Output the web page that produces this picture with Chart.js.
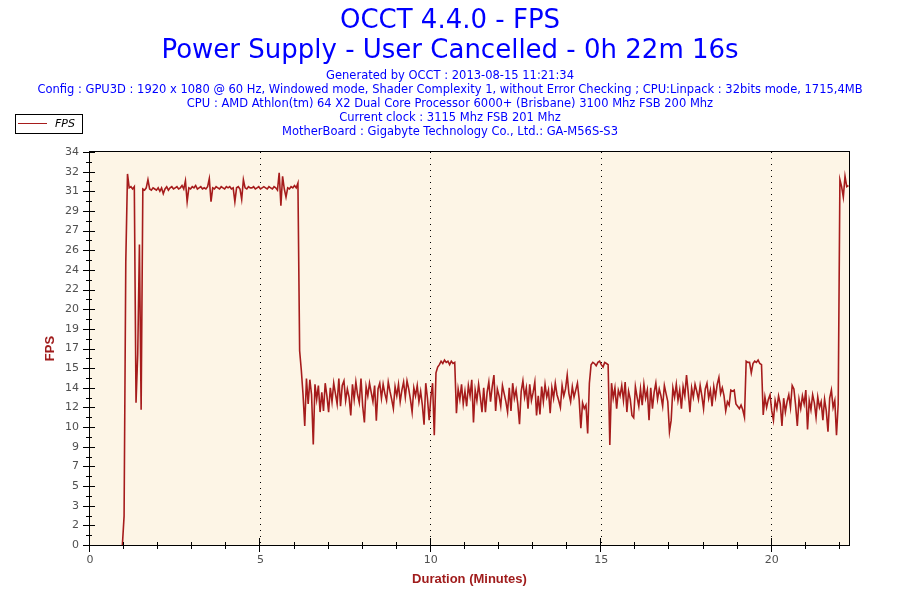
<!DOCTYPE html>
<html>
<head>
<meta charset="utf-8">
<title>OCCT 4.4.0 - FPS</title>
<script src="https://cdn.jsdelivr.net/npm/chart.js@4.4.0/dist/chart.umd.min.js"></script>
<style>
  html, body { margin: 0; padding: 0; background: #fff; }
</style>
</head>
<body>
<canvas id="fpsChart" width="900" height="600"></canvas>
<script>
// Header texts
var titleLines = [
    'OCCT 4.4.0 - FPS',
    'Power Supply - User Cancelled - 0h 22m 16s'
];
var infoLines = [
    'Generated by OCCT : 2013-08-15 11:21:34',
    'Config : GPU3D : 1920 x 1080 @ 60 Hz, Windowed mode, Shader Complexity 1, without Error Checking ; CPU:Linpack : 32bits mode, 1715,4MB',
    'CPU : AMD Athlon(tm) 64 X2 Dual Core Processor 6000+ (Brisbane) 3100 Mhz FSB 200 Mhz',
    'Current clock : 3115 Mhz FSB 201 Mhz',
    'MotherBoard : Gigabyte Technology Co., Ltd.: GA-M56S-S3'
];

// Test duration 0h 22m 16s, one sample every 3 s starting at 57 s
var sessionMinutes = 22 + 16 / 60;
var sampleStartSec = 57;
var sampleStepSec = 3;

// Y tick labels as OCCT prints them (34 / 20 steps, rounded)
var yTickLabels = ['0', '2', '3', '5', '7', '9', '10', '12', '14', '15', '17',
                   '19', '20', '22', '24', '26', '27', '29', '31', '32', '34'];

// FPS samples
var fpsStartup = [0, 2.5, 24.5, 32.1, 30.9, 31.0, 30.8, 31.0, 12.3, 16.5, 26.0, 11.7];

var fpsFullSpeed = [
    30.8, 30.7, 30.9, 31.6, 30.8, 30.7, 30.9, 30.8, 30.7, 30.9,
    30.6, 30.9, 30.4, 30.8, 31.0, 30.7, 30.9, 31.0, 30.8, 30.9,
    31.0, 30.8, 30.9, 31.1, 30.8, 31.5, 29.7, 30.9, 30.8, 31.0,
    30.9, 31.1, 30.8, 30.9, 31.0, 30.8, 30.9, 30.8, 31.0, 31.7,
    29.7, 30.9, 30.8, 31.0, 30.9, 30.8, 31.0, 30.9, 30.8, 31.0,
    30.9, 31.0, 30.8, 30.9, 29.7, 30.9, 31.0, 30.8, 29.9, 31.6,
    30.9, 30.8, 31.0, 30.9, 30.9, 31.0, 30.8, 30.9, 31.0, 30.8,
    30.9, 31.0, 30.9, 30.8, 31.0, 30.9, 30.8, 31.0, 30.9, 30.7,
    32.2, 29.35, 31.9, 30.8, 30.1, 30.9, 30.8, 31.0, 30.9, 31.1,
    30.9, 31.3
];

var fpsThrottled1 = [
    16.8, 15.1, 13.0, 10.3, 14.4, 12.2, 14.3, 13.0,
    8.7, 13.9, 12.6, 13.8, 11.5, 13.2, 11.6, 14.0, 12.9, 11.5,
    13.6, 12.4, 14.0, 13.1, 12.2, 14.4, 12.0, 13.8, 14.2, 12.5,
    13.5, 12.8, 11.2, 13.9, 12.6, 14.1, 13.0, 12.3, 14.4, 12.0,
    10.6, 13.7, 12.9, 14.0, 13.2, 12.4, 13.8, 10.75, 13.5, 14.0,
    12.7, 13.9, 13.1, 12.5, 14.1, 13.3, 12.6, 11.8, 13.7, 12.9,
    13.9, 12.4, 13.4, 14.1, 12.8, 14.2, 13.5, 12.6, 11.5, 13.6,
    12.9, 13.8, 12.4, 13.3, 12.1, 10.4, 14.0, 12.7, 10.8, 12.8
];

var fpsBurst1 = [14.0, 9.5, 14.9, 15.4,
    15.6, 15.9, 15.7, 16.0, 15.8, 15.9, 15.6, 15.9, 15.7, 15.8];

var fpsThrottled2 = [
    11.4, 13.5, 12.6, 13.9, 12.2, 13.3, 12.0, 13.8, 12.9, 14.3,
    10.6, 13.4, 12.5, 13.9, 12.8, 11.5, 13.6, 11.5, 13.2, 14.1,
    12.4, 13.7, 14.7, 11.6, 13.5, 12.9, 12.0, 13.8, 13.1, 12.4,
    11.5, 13.6, 11.6, 14.0, 12.7, 13.4, 12.2, 10.45, 13.3, 14.2,
    12.8, 13.6, 11.8, 13.9, 12.5, 13.2, 14.1, 11.2, 12.9, 11.3,
    13.7, 12.4, 13.9, 12.8, 13.4, 11.4, 13.6, 12.7, 14.0, 13.0,
    12.5, 11.9, 13.8, 12.9, 13.5, 14.7, 13.1, 12.4, 13.7, 12.8,
    13.4, 14.0,
    12.6, 10.1, 12.3, 11.8, 12.1, 9.65, 14.0, 15.6
];

var fpsBurst2 = [15.8, 15.7, 15.5, 15.8, 15.9, 15.6, 15.4, 15.8, 15.7, 15.6];

var fpsThrottled3 = [
    8.65, 14.0, 12.7, 13.6, 11.8, 13.4, 12.9, 13.8, 12.5, 14.1,
    11.5, 13.3, 12.6, 11.2, 11.0, 13.7, 12.8, 12.0, 13.5, 12.1,
    13.9, 12.7, 13.4, 10.8, 13.6, 11.8, 13.2, 14.0, 12.6, 13.5,
    12.9, 12.0, 13.8, 13.1, 12.4, 9.8, 10.8, 13.6, 12.8, 13.9,
    12.5, 13.4, 11.8, 13.7, 12.9, 14.7, 13.2, 11.5, 13.6, 12.8,
    13.9, 13.3, 12.6, 13.8, 12.9, 11.8, 13.5, 14.0, 12.7, 13.4,
    12.0, 13.7, 12.8, 13.9, 14.5, 13.1, 13.6, 12.9,
    11.6, 12.4, 12.1, 13.4, 13.3, 13.4, 12.2, 12.0, 11.8, 12.1, 11.7, 11.05
];

var fpsBurst3 = [15.9, 15.8, 15.8, 14.9, 15.7, 15.9, 15.8, 16.0, 15.7, 15.6];

var fpsThrottled4 = [
    11.25, 12.8, 11.9, 12.6, 13.0, 11.6, 10.8, 12.5, 11.8, 12.9,
    12.2, 10.3, 12.7, 11.5, 12.4, 13.0, 11.9, 13.8, 13.5, 12.1,
    10.3, 12.6, 11.8, 12.9, 12.2, 13.4, 10.0, 12.5, 11.7, 13.0,
    12.3, 11.05, 12.8, 11.9, 12.4, 10.8, 12.6, 11.6, 9.8, 12.7,
    13.4, 11.9, 12.5, 9.5, 12.2
];

var fpsRelease = [31.6, 31.0, 30.1, 31.9, 31.0, 31.1];

var fpsSeries = [].concat(fpsStartup, fpsFullSpeed, fpsThrottled1, fpsBurst1,
    fpsThrottled2, fpsBurst2, fpsThrottled3, fpsBurst3, fpsThrottled4, fpsRelease);

var fpsPoints = fpsSeries.map(function (v, i) {
    return { x: (sampleStartSec + i * sampleStepSec) / 60, y: v };
});

var lineColor = '#A61C1C';
var axisTitleColor = '#A01C1C';
var tickColor = '#505050';

// Background, frame, tick marks, header and legend in the OCCT style
var occtPlugin = {
    id: 'occtDecor',
    beforeDraw: function (chart) {
        var ctx = chart.ctx, a = chart.chartArea;
        ctx.save();
        ctx.fillStyle = '#ffffff';
        ctx.fillRect(0, 0, chart.width, chart.height);
        ctx.fillStyle = '#FDF5E6';
        ctx.fillRect(a.left, a.top, a.right - a.left, a.bottom - a.top);
        ctx.restore();
    },
    afterDraw: function (chart) {
        var ctx = chart.ctx, a = chart.chartArea;
        var xs = chart.scales.x, ys = chart.scales.y;
        var L = Math.round(a.left), R = Math.round(a.right);
        var T = Math.round(a.top), B = Math.round(a.bottom);

        ctx.save();
        ctx.strokeStyle = '#000';
        ctx.lineWidth = 1;
        ctx.strokeRect(L - 0.5, T - 0.5, R - L + 1, B - T + 1);

        //tick marks
        ctx.beginPath();
        ys.ticks.forEach(function (t, i) {
            var y = Math.round(ys.getPixelForValue(t.value)) + 0.5;
            ctx.moveTo(L - 7, y); ctx.lineTo(L + 5, y);
            if (i > 0) {
                var ym = Math.round(ys.getPixelForValue((t.value + ys.ticks[i - 1].value) / 2)) + 0.5;
                ctx.moveTo(L - 4, ym); ctx.lineTo(L + 2, ym);
            }
        });
        for (var m = 0; m <= Math.floor(xs.max); m++) {
            var x = Math.round(xs.getPixelForValue(m)) - 0.5;
            var major = m % 5 === 0;
            ctx.moveTo(x, B - (major ? 7 : 3));
            ctx.lineTo(x, B + (major ? 7 : 4));
        }
        ctx.stroke();

        //header
        ctx.textAlign = 'center';
        ctx.textBaseline = 'middle';
        ctx.fillStyle = '#0000ff';
        ctx.font = '26px "DejaVu Sans"';
        titleLines.forEach(function (t, i) { ctx.fillText(t, 450, 21 + i * 30); });
        ctx.font = '11.5px "DejaVu Sans"';
        infoLines.forEach(function (t, i) { ctx.fillText(t, 450, 76 + i * 14); });

        //legend
        var ds = chart.data.datasets[0];
        ctx.fillStyle = '#fff';
        ctx.fillRect(15.5, 114.5, 67, 19);
        ctx.strokeStyle = '#000';
        ctx.strokeRect(15.5, 114.5, 67, 19);
        ctx.strokeStyle = ds.borderColor;
        ctx.beginPath();
        ctx.moveTo(18, 123.5); ctx.lineTo(47, 123.5);
        ctx.stroke();
        ctx.fillStyle = '#000';
        ctx.textAlign = 'left';
        ctx.font = 'italic 11px "DejaVu Sans"';
        ctx.fillText(ds.label, 55, 124);
        ctx.restore();
    }
};

new Chart(document.getElementById('fpsChart'), {
    type: 'line',
    data: {
        datasets: [{
            label: 'FPS',
            data: fpsPoints,
            borderColor: lineColor,
            borderWidth: 1.6,
            pointRadius: 0,
            tension: 0,
            fill: false
        }]
    },
    options: {
        responsive: false,
        animation: false,
        events: [],
        layout: { padding: { top: 152, right: 51, bottom: 0, left: 0 } },
        plugins: {
            legend: { display: false },
            tooltip: { enabled: false },
            title: { display: false }
        },
        scales: {
            x: {
                type: 'linear',
                min: 0,
                max: sessionMinutes,
                border: { display: false, dash: [1, 5] },
                grid: {
                    drawTicks: false,
                    lineWidth: 1,
                    color: function (c) {
                        var v = c.tick ? c.tick.value : 0;
                        return (v > 0 && v % 5 === 0) ? '#000' : 'rgba(0,0,0,0)';
                    }
                },
                ticks: {
                    stepSize: 1,
                    autoSkip: false,
                    maxRotation: 0,
                    padding: 9,
                    color: tickColor,
                    font: { family: 'DejaVu Sans', size: 11 },
                    callback: function (value) {
                        return value % 5 === 0 ? String(value) : '';
                    }
                },
                title: {
                    display: true,
                    text: 'Duration (Minutes)',
                    color: axisTitleColor,
                    font: { family: 'Liberation Sans', size: 13, weight: 'bold' },
                    padding: { top: 0, bottom: 13 }
                },
                afterFit: function (s) { s.height = 55; }
            },
            y: {
                min: 0,
                max: 34,
                border: { display: false },
                grid: { display: false, drawTicks: false },
                ticks: {
                    stepSize: 1.7,
                    autoSkip: false,
                    padding: 11,
                    color: tickColor,
                    font: { family: 'DejaVu Sans', size: 11 },
                    callback: function (value, index) { return yTickLabels[index]; }
                },
                title: {
                    display: true,
                    text: 'FPS',
                    color: axisTitleColor,
                    font: { family: 'Liberation Sans', size: 13, weight: 'bold' },
                    padding: { top: 43, bottom: 0 }
                },
                afterFit: function (s) { s.width = 90; }
            }
        }
    },
    plugins: [occtPlugin]
});
</script>
</body>
</html>
